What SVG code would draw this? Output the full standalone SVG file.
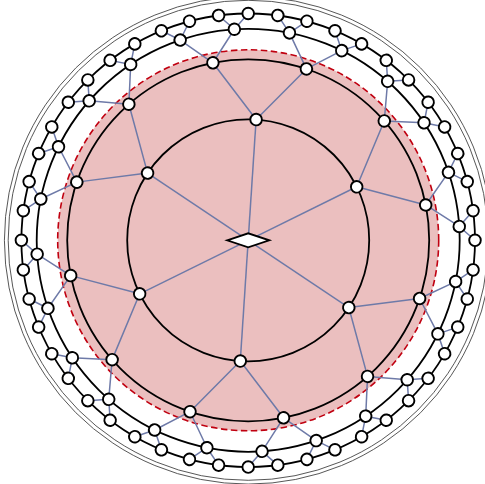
<svg xmlns="http://www.w3.org/2000/svg" width="485" height="484" viewBox="0 0 485 484">
<style>
.ring{fill:none;stroke:#000;stroke-width:1.8}
.dbl{fill:none;stroke:#444;stroke-width:0.9}
.e{stroke:#6e7aa8;stroke-width:1.5;fill:none}
.n{fill:#fff;stroke:#000;stroke-width:1.9}
</style>
<defs>
<path id="e1" d="M0,0L121,0"/>
<path id="e2" d="M121,0L174.83,-46.85M121,0L174.83,46.85"/>
<path id="e3" d="M181,0L209.69,-27.61M181,0L209.69,27.61"/>
<path id="e4" d="M211.5,0L226.31,-14.83M211.5,0L226.31,14.83"/>
</defs>
<rect width="485" height="484" fill="#fff"/>
<g transform="translate(248.2 240.3)">
<circle r="190.5" fill="#ebbfbf" stroke="#c00010" stroke-width="1.6" stroke-dasharray="6.5 3.5"/>
<circle class="dbl" r="240"/>
<circle class="dbl" r="243.8"/>
<circle class="ring" r="121"/>
<circle class="ring" r="181"/>
<circle class="ring" r="211.5"/>
<circle class="ring" r="226.8"/>
<g id="connectors" class="e">
<use href="#e1" transform="rotate(33.75)"/><use href="#e1" transform="rotate(93.75)"/><use href="#e1" transform="rotate(153.75)"/><use href="#e1" transform="rotate(213.75)"/><use href="#e1" transform="rotate(273.75)"/><use href="#e1" transform="rotate(333.75)"/>
<use href="#e2" transform="rotate(33.75)"/><use href="#e2" transform="rotate(93.75)"/><use href="#e2" transform="rotate(153.75)"/><use href="#e2" transform="rotate(213.75)"/><use href="#e2" transform="rotate(273.75)"/><use href="#e2" transform="rotate(333.75)"/>
<use href="#e3" transform="rotate(18.75)"/><use href="#e3" transform="rotate(48.75)"/><use href="#e3" transform="rotate(78.75)"/><use href="#e3" transform="rotate(108.75)"/><use href="#e3" transform="rotate(138.75)"/><use href="#e3" transform="rotate(168.75)"/><use href="#e3" transform="rotate(198.75)"/><use href="#e3" transform="rotate(228.75)"/><use href="#e3" transform="rotate(258.75)"/><use href="#e3" transform="rotate(288.75)"/><use href="#e3" transform="rotate(318.75)"/><use href="#e3" transform="rotate(348.75)"/>
<use href="#e4" transform="rotate(11.25)"/><use href="#e4" transform="rotate(26.25)"/><use href="#e4" transform="rotate(41.25)"/><use href="#e4" transform="rotate(56.25)"/><use href="#e4" transform="rotate(71.25)"/><use href="#e4" transform="rotate(86.25)"/><use href="#e4" transform="rotate(101.25)"/><use href="#e4" transform="rotate(116.25)"/><use href="#e4" transform="rotate(131.25)"/><use href="#e4" transform="rotate(146.25)"/><use href="#e4" transform="rotate(161.25)"/><use href="#e4" transform="rotate(176.25)"/><use href="#e4" transform="rotate(191.25)"/><use href="#e4" transform="rotate(206.25)"/><use href="#e4" transform="rotate(221.25)"/><use href="#e4" transform="rotate(236.25)"/><use href="#e4" transform="rotate(251.25)"/><use href="#e4" transform="rotate(266.25)"/><use href="#e4" transform="rotate(281.25)"/><use href="#e4" transform="rotate(296.25)"/><use href="#e4" transform="rotate(311.25)"/><use href="#e4" transform="rotate(326.25)"/><use href="#e4" transform="rotate(341.25)"/><use href="#e4" transform="rotate(356.25)"/>
</g>
<g id="root"><polygon points="-21,0 0,-7 21,0 0,7" fill="#fff" stroke="#000" stroke-width="1.9"/></g>
<g id="a0" transform="rotate(33.75)"><circle class="n" cx="121" r="5.8"/></g>
<g id="a1" transform="rotate(93.75)"><circle class="n" cx="121" r="5.8"/></g>
<g id="a2" transform="rotate(153.75)"><circle class="n" cx="121" r="5.8"/></g>
<g id="a3" transform="rotate(213.75)"><circle class="n" cx="121" r="5.8"/></g>
<g id="a4" transform="rotate(273.75)"><circle class="n" cx="121" r="5.8"/></g>
<g id="a5" transform="rotate(333.75)"><circle class="n" cx="121" r="5.8"/></g>
<g id="b0" transform="rotate(18.75)"><circle class="n" cx="181" r="5.8"/></g>
<g id="b1" transform="rotate(48.75)"><circle class="n" cx="181" r="5.8"/></g>
<g id="b2" transform="rotate(78.75)"><circle class="n" cx="181" r="5.8"/></g>
<g id="b3" transform="rotate(108.75)"><circle class="n" cx="181" r="5.8"/></g>
<g id="b4" transform="rotate(138.75)"><circle class="n" cx="181" r="5.8"/></g>
<g id="b5" transform="rotate(168.75)"><circle class="n" cx="181" r="5.8"/></g>
<g id="b6" transform="rotate(198.75)"><circle class="n" cx="181" r="5.8"/></g>
<g id="b7" transform="rotate(228.75)"><circle class="n" cx="181" r="5.8"/></g>
<g id="b8" transform="rotate(258.75)"><circle class="n" cx="181" r="5.8"/></g>
<g id="b9" transform="rotate(288.75)"><circle class="n" cx="181" r="5.8"/></g>
<g id="b10" transform="rotate(318.75)"><circle class="n" cx="181" r="5.8"/></g>
<g id="b11" transform="rotate(348.75)"><circle class="n" cx="181" r="5.8"/></g>
<g id="c0" transform="rotate(11.25)"><circle class="n" cx="211.5" r="5.8"/></g>
<g id="c1" transform="rotate(26.25)"><circle class="n" cx="211.5" r="5.8"/></g>
<g id="c2" transform="rotate(41.25)"><circle class="n" cx="211.5" r="5.8"/></g>
<g id="c3" transform="rotate(56.25)"><circle class="n" cx="211.5" r="5.8"/></g>
<g id="c4" transform="rotate(71.25)"><circle class="n" cx="211.5" r="5.8"/></g>
<g id="c5" transform="rotate(86.25)"><circle class="n" cx="211.5" r="5.8"/></g>
<g id="c6" transform="rotate(101.25)"><circle class="n" cx="211.5" r="5.8"/></g>
<g id="c7" transform="rotate(116.25)"><circle class="n" cx="211.5" r="5.8"/></g>
<g id="c8" transform="rotate(131.25)"><circle class="n" cx="211.5" r="5.8"/></g>
<g id="c9" transform="rotate(146.25)"><circle class="n" cx="211.5" r="5.8"/></g>
<g id="c10" transform="rotate(161.25)"><circle class="n" cx="211.5" r="5.8"/></g>
<g id="c11" transform="rotate(176.25)"><circle class="n" cx="211.5" r="5.8"/></g>
<g id="c12" transform="rotate(191.25)"><circle class="n" cx="211.5" r="5.8"/></g>
<g id="c13" transform="rotate(206.25)"><circle class="n" cx="211.5" r="5.8"/></g>
<g id="c14" transform="rotate(221.25)"><circle class="n" cx="211.5" r="5.8"/></g>
<g id="c15" transform="rotate(236.25)"><circle class="n" cx="211.5" r="5.8"/></g>
<g id="c16" transform="rotate(251.25)"><circle class="n" cx="211.5" r="5.8"/></g>
<g id="c17" transform="rotate(266.25)"><circle class="n" cx="211.5" r="5.8"/></g>
<g id="c18" transform="rotate(281.25)"><circle class="n" cx="211.5" r="5.8"/></g>
<g id="c19" transform="rotate(296.25)"><circle class="n" cx="211.5" r="5.8"/></g>
<g id="c20" transform="rotate(311.25)"><circle class="n" cx="211.5" r="5.8"/></g>
<g id="c21" transform="rotate(326.25)"><circle class="n" cx="211.5" r="5.8"/></g>
<g id="c22" transform="rotate(341.25)"><circle class="n" cx="211.5" r="5.8"/></g>
<g id="c23" transform="rotate(356.25)"><circle class="n" cx="211.5" r="5.8"/></g>
<g id="d0" transform="rotate(0)"><circle class="n" cx="226.8" r="5.8"/></g>
<g id="d1" transform="rotate(7.5)"><circle class="n" cx="226.8" r="5.8"/></g>
<g id="d2" transform="rotate(15)"><circle class="n" cx="226.8" r="5.8"/></g>
<g id="d3" transform="rotate(22.5)"><circle class="n" cx="226.8" r="5.8"/></g>
<g id="d4" transform="rotate(30)"><circle class="n" cx="226.8" r="5.8"/></g>
<g id="d5" transform="rotate(37.5)"><circle class="n" cx="226.8" r="5.8"/></g>
<g id="d6" transform="rotate(45)"><circle class="n" cx="226.8" r="5.8"/></g>
<g id="d7" transform="rotate(52.5)"><circle class="n" cx="226.8" r="5.8"/></g>
<g id="d8" transform="rotate(60)"><circle class="n" cx="226.8" r="5.8"/></g>
<g id="d9" transform="rotate(67.5)"><circle class="n" cx="226.8" r="5.8"/></g>
<g id="d10" transform="rotate(75)"><circle class="n" cx="226.8" r="5.8"/></g>
<g id="d11" transform="rotate(82.5)"><circle class="n" cx="226.8" r="5.8"/></g>
<g id="d12" transform="rotate(90)"><circle class="n" cx="226.8" r="5.8"/></g>
<g id="d13" transform="rotate(97.5)"><circle class="n" cx="226.8" r="5.8"/></g>
<g id="d14" transform="rotate(105)"><circle class="n" cx="226.8" r="5.8"/></g>
<g id="d15" transform="rotate(112.5)"><circle class="n" cx="226.8" r="5.8"/></g>
<g id="d16" transform="rotate(120)"><circle class="n" cx="226.8" r="5.8"/></g>
<g id="d17" transform="rotate(127.5)"><circle class="n" cx="226.8" r="5.8"/></g>
<g id="d18" transform="rotate(135)"><circle class="n" cx="226.8" r="5.8"/></g>
<g id="d19" transform="rotate(142.5)"><circle class="n" cx="226.8" r="5.8"/></g>
<g id="d20" transform="rotate(150)"><circle class="n" cx="226.8" r="5.8"/></g>
<g id="d21" transform="rotate(157.5)"><circle class="n" cx="226.8" r="5.8"/></g>
<g id="d22" transform="rotate(165)"><circle class="n" cx="226.8" r="5.8"/></g>
<g id="d23" transform="rotate(172.5)"><circle class="n" cx="226.8" r="5.8"/></g>
<g id="d24" transform="rotate(180)"><circle class="n" cx="226.8" r="5.8"/></g>
<g id="d25" transform="rotate(187.5)"><circle class="n" cx="226.8" r="5.8"/></g>
<g id="d26" transform="rotate(195)"><circle class="n" cx="226.8" r="5.8"/></g>
<g id="d27" transform="rotate(202.5)"><circle class="n" cx="226.8" r="5.8"/></g>
<g id="d28" transform="rotate(210)"><circle class="n" cx="226.8" r="5.8"/></g>
<g id="d29" transform="rotate(217.5)"><circle class="n" cx="226.8" r="5.8"/></g>
<g id="d30" transform="rotate(225)"><circle class="n" cx="226.8" r="5.8"/></g>
<g id="d31" transform="rotate(232.5)"><circle class="n" cx="226.8" r="5.8"/></g>
<g id="d32" transform="rotate(240)"><circle class="n" cx="226.8" r="5.8"/></g>
<g id="d33" transform="rotate(247.5)"><circle class="n" cx="226.8" r="5.8"/></g>
<g id="d34" transform="rotate(255)"><circle class="n" cx="226.8" r="5.8"/></g>
<g id="d35" transform="rotate(262.5)"><circle class="n" cx="226.8" r="5.8"/></g>
<g id="d36" transform="rotate(270)"><circle class="n" cx="226.8" r="5.8"/></g>
<g id="d37" transform="rotate(277.5)"><circle class="n" cx="226.8" r="5.8"/></g>
<g id="d38" transform="rotate(285)"><circle class="n" cx="226.8" r="5.8"/></g>
<g id="d39" transform="rotate(292.5)"><circle class="n" cx="226.8" r="5.8"/></g>
<g id="d40" transform="rotate(300)"><circle class="n" cx="226.8" r="5.8"/></g>
<g id="d41" transform="rotate(307.5)"><circle class="n" cx="226.8" r="5.8"/></g>
<g id="d42" transform="rotate(315)"><circle class="n" cx="226.8" r="5.8"/></g>
<g id="d43" transform="rotate(322.5)"><circle class="n" cx="226.8" r="5.8"/></g>
<g id="d44" transform="rotate(330)"><circle class="n" cx="226.8" r="5.8"/></g>
<g id="d45" transform="rotate(337.5)"><circle class="n" cx="226.8" r="5.8"/></g>
<g id="d46" transform="rotate(345)"><circle class="n" cx="226.8" r="5.8"/></g>
<g id="d47" transform="rotate(352.5)"><circle class="n" cx="226.8" r="5.8"/></g>
</g>
</svg>
